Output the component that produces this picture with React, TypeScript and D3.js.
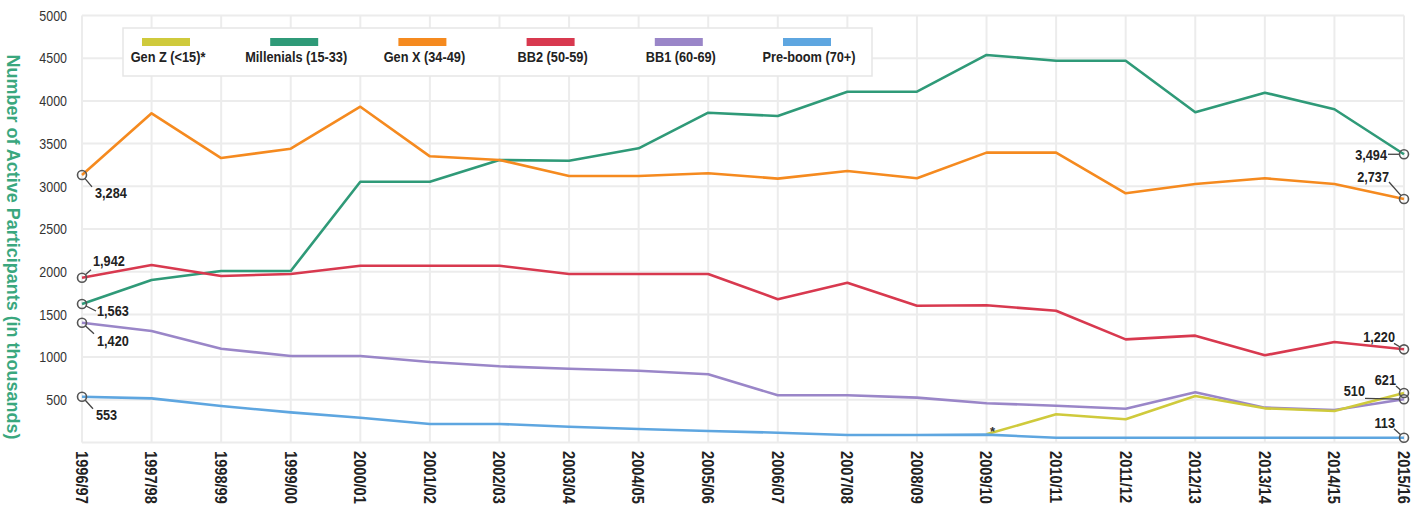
import React, { useEffect, useRef } from 'react';
import * as d3 from 'd3';

// season labels along the x axis
const years = [
  '1996/97', '1997/98', '1998/99', '1999/00', '2000/01', '2001/02', '2002/03',
  '2003/04', '2004/05', '2005/06', '2006/07', '2007/08', '2008/09', '2009/10',
  '2010/11', '2011/12', '2012/13', '2013/14', '2014/15', '2015/16',
];

const yTicks = [500, 1000, 1500, 2000, 2500, 3000, 3500, 4000, 4500, 5000];

// values in thousands
const genZ = [null, null, null, null, null, null, null, null, null, null, null, null, null,
  96, 330, 272, 545, 400, 369, 580];
const millenials = [1622, 1903, 2008, 2008, 3054, 3054, 3308, 3300, 3445, 3862,
  3823, 4108, 4108, 4538, 4471, 4471, 3867, 4096, 3902, 3375];
const genX = [3133, 3855, 3331, 3440, 3932, 3351, 3308, 3121, 3121, 3152,
  3090, 3179, 3094, 3394, 3394, 2918, 3027, 3094, 3027, 2851];
const bb2 = [1930, 2079, 1950, 1973, 2070, 2070, 2070, 1973, 1973, 1973,
  1678, 1871, 1602, 1607, 1543, 1208, 1251, 1021, 1177, 1091];
const bb1 = [1403, 1306, 1098, 1013, 1013, 943, 892, 864, 841, 799,
  553, 553, 525, 459, 431, 396, 588, 408, 381, 506];
const preBoom = [536, 517, 427, 353, 290, 217, 217, 185, 158, 135,
  115, 88, 88, 92, 56, 56, 56, 56, 56, 56];

const seriesNames = ['Gen Z (<15)*', 'Millenials (15-33)', 'Gen X (34-49)', 'BB2 (50-59)', 'BB1 (60-69)', 'Pre-boom (70+)'];
const seriesValues = [genZ, millenials, genX, bb2, bb1, preBoom];
const seriesColors = ['#cfca3c', '#2f9a78', '#f58a1f', '#d8394f', '#9a86c8', '#5ea6e0'];
// draw order: purple under yellow
const drawOrder = [1, 2, 3, 4, 0, 5];

// end-point callouts: [series index, point index, label]
const callouts = [
  [2, 0, '3,284'], [3, 0, '1,942'], [1, 0, '1,563'], [4, 0, '1,420'], [5, 0, '553'],
  [1, 19, '3,494'], [2, 19, '2,737'], [3, 19, '1,220'], [0, 19, '621'], [4, 19, '510'], [5, 19, '113'],
];
// label offset (tx,ty) and leader end (lx,ly) relative to the point
const calloutLayout = [
  { tx: 13, ty: 23, lx: 10, ly: 12 },
  { tx: 11, ty: -12, lx: 9, ly: -8 },
  { tx: 15, ty: 12, lx: 14, ly: 7 },
  { tx: 15, ty: 23, lx: 12, ly: 11 },
  { tx: 14, ty: 23, lx: 11, ly: 12 },
  { tx: -17, ty: 6, lx: -16, ly: 0 },
  { tx: -15, ty: -17, lx: -15, ly: -17 },
  { tx: -9, ty: -7, lx: -10, ly: -6 },
  { tx: -8, ty: -8, lx: -8, ly: -7 },
  { tx: -39, ty: -3, lx: -39, ly: -1 },
  { tx: -9, ty: -10, lx: -10, ly: -9 },
];

// no condensed face installed, so squeeze Liberation Sans horizontally
const FONT = "'Liberation Sans', Arial, sans-serif";

function ParticipantsChart({ width = 1416, height = 508 }) {
  const svgRef = useRef(null);

  useEffect(() => {
    const svg = d3.select(svgRef.current);
    svg.selectAll('*').remove();
    svg.attr('width', width).attr('height', height);

    svg.append('rect').attr('width', width).attr('height', height).attr('fill', '#fff');

    const x = d3.scalePoint().domain(years).range([82, 1404]);
    const y = d3.scaleLinear().domain([0, 5000]).range([442.5, 15.5]);

    // grid
    const grid = svg.append('g').attr('stroke', '#ececec').attr('stroke-width', 2);
    grid.selectAll('line.v').data(years).enter().append('line')
      .attr('x1', d => x(d)).attr('x2', d => x(d))
      .attr('y1', y(5000)).attr('y2', y(0));
    grid.selectAll('line.h').data([0, ...yTicks]).enter().append('line')
      .attr('x1', x(years[0])).attr('x2', x(years[years.length - 1]))
      .attr('y1', d => y(d)).attr('y2', d => y(d));

    // y tick labels
    svg.append('g').selectAll('text').data(yTicks).enter().append('text')
      .attr('transform', d => `translate(67,${y(d)}) scale(0.86,1)`)
      .attr('dy', '0.36em')
      .attr('text-anchor', 'end')
      .attr('font-family', FONT).attr('font-size', 14.5).attr('fill', '#333')
      .text(d => d);

    // y axis title
    svg.append('text')
      .attr('transform', `translate(7,${(y(5000) + y(0)) / 2 + 18}) rotate(90)`)
      .attr('text-anchor', 'middle')
      .attr('font-family', FONT).attr('font-weight', 'bold').attr('font-size', 18.5)
      .attr('textLength', 385).attr('lengthAdjust', 'spacingAndGlyphs')
      .attr('fill', '#3aa77e')
      .text('Number of Active Participants (in thousands)');

    // x labels
    svg.append('g').selectAll('text').data(years).enter().append('text')
      .attr('transform', d => `translate(${x(d)},451) rotate(90) scale(0.86,1)`)
      .attr('dy', '0.36em')
      .attr('font-family', FONT).attr('font-weight', 'bold').attr('font-size', 17)
      .attr('fill', '#222')
      .text(d => d);

    // legend
    const legend = svg.append('g');
    legend.append('rect')
      .attr('x', 123).attr('y', 28).attr('width', 749).attr('height', 48)
      .attr('fill', '#fff').attr('stroke', '#e6e6e6').attr('stroke-width', 1.5);
    const legendX = d3.scalePoint().domain(seriesNames).range([166, 807]);
    const item = legend.selectAll('g.item').data(seriesNames).enter().append('g')
      .attr('transform', d => `translate(${legendX(d)},0)`);
    item.append('rect')
      .attr('x', -24).attr('y', 38).attr('width', 48).attr('height', 8)
      .attr('fill', (d, i) => seriesColors[i]);
    item.append('text')
      .attr('transform', 'translate(2,62) scale(0.88,1)')
      .attr('text-anchor', 'middle')
      .attr('font-family', FONT).attr('font-weight', 'bold').attr('font-size', 14.5)
      .attr('fill', '#222')
      .text(d => d);

    // lines
    const line = d3.line()
      .defined(d => d != null)
      .x((d, i) => x(years[i]))
      .y(d => y(d));
    svg.append('g').selectAll('path').data(drawOrder).enter().append('path')
      .attr('d', i => line(seriesValues[i]))
      .attr('fill', 'none')
      .attr('stroke', i => seriesColors[i])
      .attr('stroke-width', 2.6)
      .attr('stroke-linejoin', 'round');

    // asterisk where Gen Z starts
    const zStart = genZ.findIndex(v => v != null);
    svg.append('text')
      .attr('x', x(years[zStart]) + 6).attr('y', y(genZ[zStart]) + 2)
      .attr('text-anchor', 'middle')
      .attr('font-family', FONT).attr('font-weight', 'bold').attr('font-size', 13)
      .attr('fill', '#333')
      .text('*');

    // callouts
    const co = svg.append('g');
    callouts.forEach(([s, p, label], k) => {
      const px = x(years[p]);
      const py = y(seriesValues[s][p]);
      const lay = calloutLayout[k];
      const ang = Math.atan2(lay.ly, lay.lx);
      co.append('line')
        .attr('x1', px + Math.cos(ang) * 4.5).attr('y1', py + Math.sin(ang) * 4.5)
        .attr('x2', px + lay.lx).attr('y2', py + lay.ly)
        .attr('stroke', '#444').attr('stroke-width', 1.3);
      co.append('circle')
        .attr('cx', px).attr('cy', py).attr('r', 4.5)
        .attr('fill', 'none').attr('stroke', '#555').attr('stroke-width', 1.6);
      co.append('text')
        .attr('transform', `translate(${px + lay.tx},${py + lay.ty}) scale(0.82,1)`)
        .attr('text-anchor', lay.tx < 0 ? 'end' : 'start')
        .attr('font-family', FONT).attr('font-weight', 'bold').attr('font-size', 15.5)
        .attr('fill', '#222')
        .text(label);
    });
  }, [width, height]);

  return <svg ref={svgRef} style={{ position: 'absolute', left: 0, top: 0, display: 'block' }}></svg>;
}

export default function App() {
  return <ParticipantsChart />;
}
